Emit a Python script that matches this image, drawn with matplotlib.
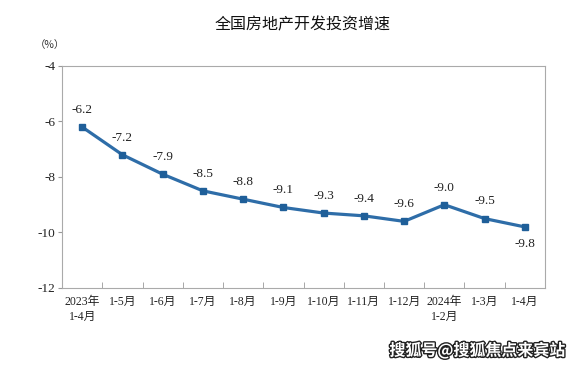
import matplotlib
matplotlib.use("Agg")
import matplotlib.pyplot as plt
import matplotlib.patheffects as pe

categories = ["2023年\n1-4月", "1-5月", "1-6月", "1-7月", "1-8月", "1-9月",
              "1-10月", "1-11月", "1-12月", "2024年\n1-2月", "1-3月", "1-4月"]
values = [-6.2, -7.2, -7.9, -8.5, -8.8, -9.1, -9.3, -9.4, -9.6, -9.0, -9.5, -9.8]
yticks = [-4, -6, -8, -10, -12]

fam = ['Liberation Serif', 'Noto Sans CJK SC']
plt.rcParams['font.family'] = fam

fig = plt.figure(figsize=(5.77, 3.67), dpi=100)
ax = fig.add_axes([0.1075, 0.2153, 0.837, 0.605])

x = list(range(len(values)))
ax.plot(x, values, color='#2E6DA8', lw=2.3, marker='s', ms=4.5,
        markerfacecolor='#1F5F99', markeredgecolor='#1F5F99', zorder=3)

for i, v in enumerate(values):
    if i == len(values) - 1:
        ax.annotate(f"{v:.1f}", (i, v), xytext=(0, -8), textcoords='offset points',
                    ha='center', va='top', fontsize=9.5, color='#222222')
    else:
        ax.annotate(f"{v:.1f}", (i, v), xytext=(0, 8), textcoords='offset points',
                    ha='center', va='bottom', fontsize=9.5, color='#222222')

ax.set_xlim(-0.5, len(values) - 0.5)
ax.set_ylim(-12, -4)
ax.set_yticks(yticks)
ax.set_yticklabels([str(t) for t in yticks], fontsize=9.5, color='#222222')

ax.set_xticks(x)
ax.set_xticklabels(categories, fontsize=8.5, color='#222222', va='top', linespacing=1.3)
ax.tick_params(axis='x', length=0, pad=6)
ax.set_xticks([i + 0.5 for i in range(len(values) - 1)], minor=True)
ax.tick_params(axis='x', which='minor', direction='in', length=4, color='#999999')
ax.tick_params(axis='y', direction='out', length=3, color='#999999', pad=2)

for s in ax.spines.values():
    s.set_color('#aaaaaa')
    s.set_linewidth(0.8)

fig.text(0.524, 0.932, "全国房地产开发投资增速", ha='center', va='center',
         fontsize=11.5, family=['Noto Sans CJK SC'], color='#111111')
fig.text(0.087, 0.878, "（%）", ha='center', va='center', fontsize=7.5,
         family=['Noto Sans CJK SC'], color='#333333')

wm = fig.text(0.98, 0.045, "搜狐号@搜狐焦点来宾站", ha='right', va='center',
              fontsize=11.5, family=['Noto Sans CJK SC'], color='white', weight='bold')
wm.set_path_effects([pe.withStroke(linewidth=2, foreground='#222222')])

fig.savefig("out.png", dpi=100)
